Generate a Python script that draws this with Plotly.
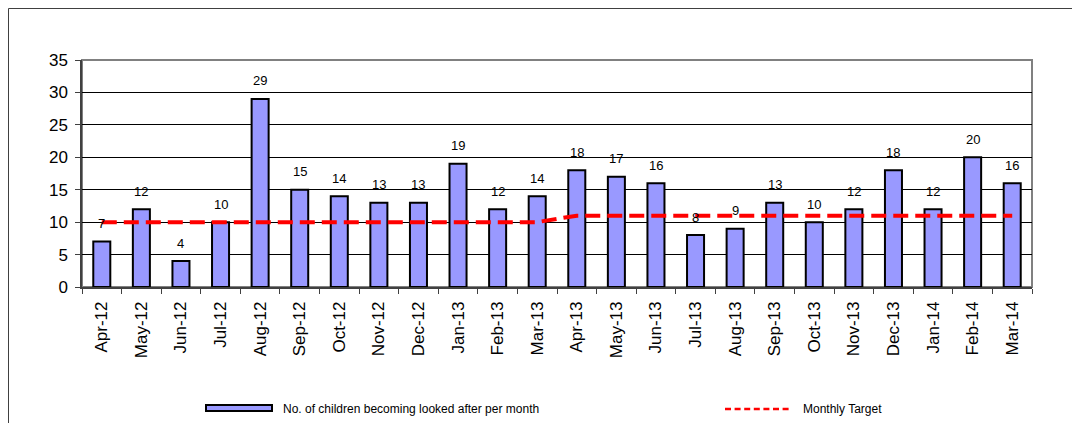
import plotly.graph_objects as go

months = ["Apr-12", "May-12", "Jun-12", "Jul-12", "Aug-12", "Sep-12", "Oct-12", "Nov-12",
          "Dec-12", "Jan-13", "Feb-13", "Mar-13", "Apr-13", "May-13", "Jun-13", "Jul-13",
          "Aug-13", "Sep-13", "Oct-13", "Nov-13", "Dec-13", "Jan-14", "Feb-14", "Mar-14"]
children = [7, 12, 4, 10, 29, 15, 14, 13, 13, 19, 12, 14, 18, 17, 16, 8, 9, 13, 10, 12, 18, 12, 20, 16]
target = [10] * 12 + [11] * 12
y_ticks = [0, 5, 10, 15, 20, 25, 30, 35]

W, H = 1072, 423
PLOT_L, PLOT_R, PLOT_T, PLOT_B = 82, 1032, 60, 287   # pixel bounds of the plot area
L, T = PLOT_L, PLOT_T
R, B = W - PLOT_R, H - PLOT_B
PW, PH = W - L - R, H - T - B

def px(x):
    return (x - L) / PW

def py(y):
    return (H - B - y) / PH

FONT = "Arial, Liberation Sans, sans-serif"

fig = go.Figure()
fig.add_trace(go.Bar(
    x=months, y=children, name="No. of children becoming looked after per month",
    marker=dict(color="#9999FF", line=dict(color="black", width=2)),
    width=0.43, showlegend=False,
))
fig.add_trace(go.Scatter(
    x=months, y=target, name="Monthly Target", mode="lines",
    line=dict(color="#FF0000", width=4, dash="15px,7px"),
    showlegend=False,
))

for m, v in zip(months, children):
    fig.add_annotation(x=m, y=v, text=str(v), showarrow=False, yshift=18,
                       font=dict(family=FONT, size=13, color="black"))

shapes = [
    # outer chart border (top and left edges visible)
    dict(type="line", xref="paper", yref="paper", x0=px(8.5), x1=px(1080), y0=py(8.5), y1=py(8.5),
         line=dict(color="#404040", width=1), layer="below"),
    dict(type="line", xref="paper", yref="paper", x0=px(8.5), x1=px(8.5), y0=py(8.5), y1=py(430),
         line=dict(color="#404040", width=1), layer="below"),
    # plot area frame
    dict(type="rect", xref="paper", yref="paper", x0=0, x1=1, y0=0, y1=1,
         line=dict(color="#808080", width=2), layer="below"),
    # legend symbols
    dict(type="rect", xref="paper", yref="paper", x0=px(206), x1=px(272), y0=py(411), y1=py(405),
         fillcolor="#9999FF", line=dict(color="black", width=2)),
    dict(type="line", xref="paper", yref="paper", x0=px(725), x1=px(792), y0=py(409), y1=py(409),
         line=dict(color="#FF0000", width=2.5, dash="6px,3.6px")),
]
fig.add_annotation(xref="paper", yref="paper", x=px(281), y=py(408.5), text="No. of children becoming looked after per month",
                   showarrow=False, xanchor="left", yanchor="middle", font=dict(family=FONT, size=12, color="black"))
fig.add_annotation(xref="paper", yref="paper", x=px(801), y=py(408.5), text="Monthly Target",
                   showarrow=False, xanchor="left", yanchor="middle", font=dict(family=FONT, size=12, color="black"))

fig.update_layout(
    width=W, height=H,
    margin=dict(l=L, r=R, t=T, b=B),
    paper_bgcolor="white", plot_bgcolor="white",
    shapes=shapes,
    bargap=0.57,
    font=dict(family=FONT, color="black"),
)
fig.update_xaxes(
    type="category", tickangle=-90, tickfont=dict(size=17, family=FONT),
    showline=True, linecolor="#404040", linewidth=1.5,
    ticks="outside", ticklen=5, tickcolor="#404040", tickson="boundaries",
    ticklabelstandoff=6,
    showgrid=False,
)
fig.update_yaxes(
    range=[0, 35], tickvals=y_ticks, tickfont=dict(size=17, family=FONT),
    showline=True, linecolor="#404040", linewidth=1.5,
    ticks="outside", ticklen=5, tickcolor="#404040",
    ticklabelstandoff=4,
    showgrid=True, gridcolor="black", gridwidth=1, zeroline=False,
)

fig.write_html(
    "out.html",
    config={"displayModeBar": False},
    post_script="document.body.style.margin='0';document.body.style.overflow='hidden';",
)
